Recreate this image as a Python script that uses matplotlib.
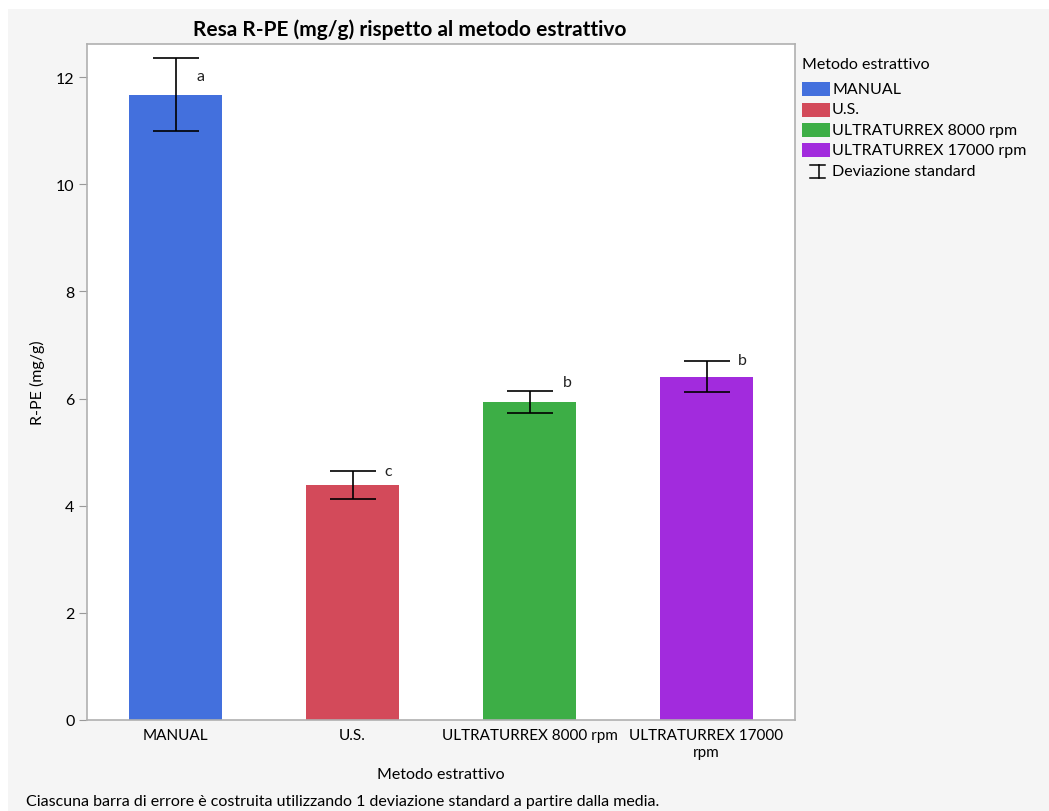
import numpy as np
import matplotlib
matplotlib.use("Agg")
import matplotlib.pyplot as plt
import matplotlib.patches as mpatches
from matplotlib.lines import Line2D

# Resa R-PE per metodo estrattivo (media, deviazione standard, lettera del test)
metodi = ["MANUAL", "U.S.", "ULTRATURREX 8000 rpm", "ULTRATURREX 17000 rpm"]
tick_labels = ["MANUAL", "U.S.", "ULTRATURREX 8000 rpm", "ULTRATURREX 17000\nrpm"]
medie = [11.67, 4.38, 5.94, 6.41]
dev_std = [0.68, 0.26, 0.21, 0.29]
lettere = ["a", "c", "b", "b"]
lettere_y = [12.02, 4.65, 6.31, 6.72]
colori = ["#4370dd", "#d34a5a", "#3dae46", "#a22bdd"]

plt.rcParams['font.family'] = ['Lato', 'DejaVu Sans']
FS = 11.5

W, H = 1049, 812
fig = plt.figure(figsize=(W / 100, H / 100), dpi=100)
fig.patch.set_facecolor("white")


def fx(px):
    return px / W


def fy(py):
    return 1 - py / H


# pannello grigio dietro al grafico
fig.patches.append(mpatches.Rectangle((fx(8), 0), 1, fy(10),
                                      transform=fig.transFigure,
                                      facecolor="#f5f5f5", edgecolor="none",
                                      zorder=-10))

ax = fig.add_axes([fx(87), fy(721), fx(795 - 87), (721 - 45) / H])
ax.set_facecolor("white")

x = np.arange(len(metodi))
ax.bar(x, medie, width=0.525, color=colori, zorder=2)
ax.errorbar(x, medie, yerr=dev_std, fmt="none", ecolor="black",
            elinewidth=1.2, capsize=16.5, capthick=1.2, zorder=3)
lettere_dx = [0.12, 0.18, 0.19, 0.18]
for xi, let, ly, dx in zip(x, lettere, lettere_y, lettere_dx):
    ax.text(xi + dx, ly, let, fontsize=FS, ha="left", va="center",
            color="#222222")

ax.set_xlim(-0.5, 3.5)
ax.set_ylim(0, 12.62)
ax.set_yticks(np.arange(0, 13, 2))
ax.set_xticks(x)
ax.set_xticklabels(tick_labels, fontsize=11)
ax.tick_params(axis="y", labelsize=FS, length=6, color="#999999", pad=3)
ax.tick_params(axis="x", length=0, pad=6)
for s in ax.spines.values():
    s.set_color("#b0b0b0")
    s.set_linewidth(1.2)

ax.set_ylabel("R-PE (mg/g)", fontsize=FS, labelpad=8)
ax.set_xlabel("Metodo estrattivo", fontsize=FS, labelpad=6)
fig.text(fx(410), fy(30), "Resa R-PE (mg/g) rispetto al metodo estrattivo",
         fontsize=15, fontweight="bold", ha="center", va="center")

# legenda disegnata a mano
fig.text(fx(802), fy(65), "Metodo estrattivo", fontsize=FS,
         ha="left", va="center")
righe_y = [90, 110.5, 131, 151]
for c, nome, ry in zip(colori, metodi, righe_y):
    fig.patches.append(mpatches.Rectangle((fx(802), fy(ry + 7)), fx(28),
                                          14 / H, transform=fig.transFigure,
                                          facecolor=c, edgecolor="none"))
    fig.text(fx(832), fy(ry), nome, fontsize=FS, ha="left", va="center")
# simbolo della deviazione standard
for xs, ys in [([819, 819], [166, 179]), ([810, 825], [166, 166]),
               ([810, 825], [179, 179])]:
    fig.add_artist(Line2D([fx(v) for v in xs], [fy(v) for v in ys],
                          color="black", lw=1.1, transform=fig.transFigure))
fig.text(fx(832), fy(172), "Deviazione standard", fontsize=FS,
         ha="left", va="center")

fig.text(fx(26), fy(802),
         "Ciascuna barra di errore è costruita utilizzando 1 deviazione standard a partire dalla media.",
         fontsize=FS, ha="left", va="center")

fig.savefig("out.png", dpi=100, facecolor=fig.get_facecolor())
